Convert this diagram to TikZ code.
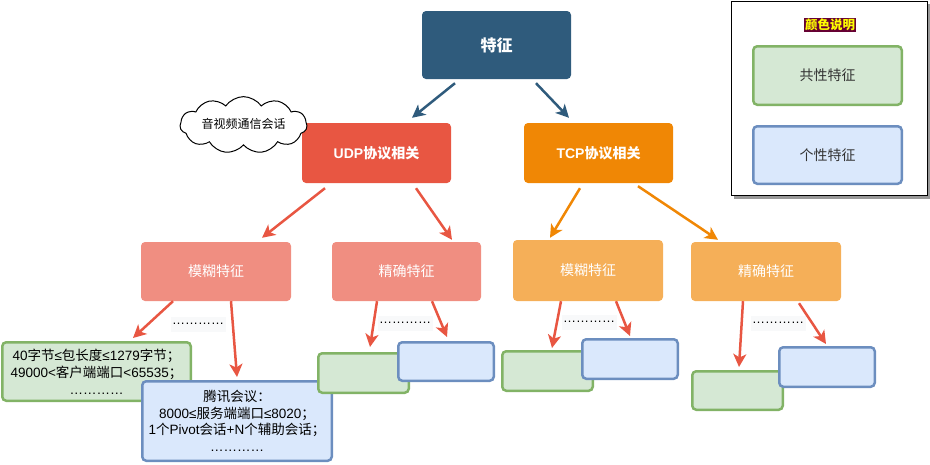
\documentclass[tikz,border=0pt]{standalone}
\usepackage{fontspec}
\setmainfont{Noto Sans CJK SC}
\newfontfamily\lsans{Liberation Sans}
\newcommand\LS[1]{{\lsans #1}}
\usetikzlibrary{shapes.symbols,arrows.meta,calc}
\definecolor{cRoot}{HTML}{2F5B7C}
\definecolor{cUdp}{HTML}{E85642}
\definecolor{cTcp}{HTML}{F08705}
\definecolor{cUdpL}{HTML}{F08E81}
\definecolor{cTcpL}{HTML}{F5AF58}
\definecolor{gFill}{HTML}{D5E8D4}
\definecolor{gLine}{HTML}{82B366}
\definecolor{bFill}{HTML}{DAE8FC}
\definecolor{bLine}{HTML}{6C8EBF}
\definecolor{dotBg}{HTML}{F8F9FA}
\definecolor{legBg}{HTML}{660033}
\definecolor{legTxt}{HTML}{FFFF00}
\definecolor{txtGray}{HTML}{333333}
\tikzset{
  topbox/.style={rounded corners=4pt, inner sep=0pt, text=white,
    font=\bfseries\fontsize{14}{16}\selectfont},
  gbox/.style={draw=gLine, fill=gFill, line width=2.5pt, rounded corners=4pt, inner sep=0pt,
    align=center, font=\fontsize{13.5}{17}\selectfont},
  bbox/.style={draw=bLine, fill=bFill, line width=2.5pt, rounded corners=4pt, inner sep=0pt,
    align=center, font=\fontsize{13.5}{16.5}\selectfont},
  arr/.style={draw=#1, line width=2.5pt,
    -{Stealth[length=13pt,width=13pt,inset=3.5pt]}},
  dots/.style={fill=dotBg, inner sep=1.5pt, minimum width=51pt, minimum height=15pt,
    font=\lsans\fontsize{13}{14}\selectfont},
}
\begin{document}
\begin{tikzpicture}[x=1pt,y=-1pt]
\useasboundingbox (0,0) rectangle (930,464);

% top levels
\node[topbox, fill=cRoot, minimum width=149pt, minimum height=68pt,
  font=\bfseries\fontsize{16}{18}\selectfont] (root) at (496.5,45) {特征};
\node[topbox, fill=cUdp, minimum width=149pt, minimum height=60pt] (udp) at (376.5,153) {\LS{UDP}协议相关};
\node[topbox, fill=cTcp, minimum width=149pt, minimum height=60pt] (tcp) at (598.5,153) {\LS{TCP}协议相关};

\node[topbox, fill=cUdpL, minimum width=150pt, minimum height=59pt, font=\fontsize{14}{16}\selectfont] (ufz) at (216,271.5) {模糊特征};
\node[topbox, fill=cUdpL, minimum width=149pt, minimum height=59pt, font=\fontsize{14}{16}\selectfont] (upr) at (406.5,271.5) {精确特征};
\node[topbox, fill=cTcpL, minimum width=150pt, minimum height=61pt, font=\fontsize{14}{16}\selectfont] (tfz) at (588,270.5) {模糊特征};
\node[topbox, fill=cTcpL, minimum width=150pt, minimum height=59pt, font=\fontsize{14}{16}\selectfont] (tpr) at (766,271.5) {精确特征};

% cloud
\node[cloud, draw=black, fill=white, line width=1pt, cloud puffs=11, cloud puff arc=110,
  aspect=2.9, inner sep=0pt, minimum width=127pt, minimum height=44pt,
  font=\fontsize{12}{14}\selectfont] (cl) at (243.5,125) {\raisebox{3pt}{音视频通信会话}};

% lower boxes
\node[gbox, minimum width=188.5pt, minimum height=58.5pt] (ug) at (96.5,371.5)
  {\LS{40}字节\LS{≤}包长度\LS{≤1279}字节；\\\LS{49000<}客户端端口\LS{<65535}；\\\LS{…………}};
\node[bbox, minimum width=189.5pt, minimum height=79.5pt] (ub) at (237,421)
  {腾讯会议：\\\LS{8000≤}服务端端口\LS{≤8020}；\\\LS{1}个\LS{Pivot}会话\LS{+N}个辅助会话；\\\LS{…………}};

\node[gbox, minimum width=90.5pt, minimum height=39.5pt] (upg) at (363.5,373) {};
\node[bbox, minimum width=95.5pt, minimum height=38.5pt] (upb) at (446,361.5) {};
\node[gbox, minimum width=90.5pt, minimum height=39.5pt] (tfg) at (547.5,371) {};
\node[bbox, minimum width=95.5pt, minimum height=39.5pt] (tfb) at (630,359) {};
\node[gbox, minimum width=90.5pt, minimum height=38.5pt] (tpg) at (737.5,390.5) {};
\node[bbox, minimum width=95.5pt, minimum height=39.5pt] (tpb) at (827,367) {};

% dots
\node[dots] (d1) at (198,324) {…………};
\node[dots] (d2) at (405,323) {…………};
\node[dots] (d3) at (589,322) {…………};
\node[dots] (d4) at (778,323) {…………};

% arrows
\draw[arr=cRoot] ($(root.south)+(-41.5,4)$) -- ($(udp.north)+(35.5,-5)$);
\draw[arr=cRoot] ($(root.south)+(39.5,4)$) -- ($(tcp.north)+(-29.5,-5)$);
\draw[arr=cUdp] ($(udp.south)+(-51.5,5)$) -- ($(ufz.north)+(46,-4)$);
\draw[arr=cUdp] ($(udp.south)+(39.5,5)$) -- ($(upr.north)+(45.5,-2)$);
\draw[arr=cTcp] ($(tcp.south)+(-18.5,5)$) -- ($(tfz.north)+(-38,-2)$);
\draw[arr=cTcp] ($(tcp.south)+(39.5,3)$) -- ($(tpr.north)+(-48,-2)$);
\draw[arr=cUdp] ($(ufz.south)+(-43,0)$) -- ($(ug.north)+(36.5,-3)$);
\draw[arr=cUdp] ($(ufz.south)+(15,0)$) -- ($(ub.north)+(0,-3)$);
\draw[arr=cUdp] ($(upr.south)+(-29.5,0)$) -- ($(upg.north)+(6.5,-5)$);
\draw[arr=cUdp] ($(upr.south)+(25.5,0)$) -- ($(upb.north)+(1,-4)$);
\draw[arr=cUdp] ($(tfz.south)+(-27,0)$) -- ($(tfg.north)+(4.5,-2)$);
\draw[arr=cUdp] ($(tfz.south)+(28,0)$) -- ($(tfb.north)+(0,-2)$);
\draw[arr=cUdp] ($(tpr.south)+(-23,0)$) -- ($(tpg.north)+(1.5,-3)$);
\draw[arr=cUdp] ($(tpr.south)+(33,2)$) -- ($(tpb.north)+(-1,-2)$);

% legend
\fill[gray!80] (734,4) rectangle (930,198.5);
\node[draw=black, fill=white, line width=1pt, minimum width=196pt, minimum height=194pt,
  inner sep=0pt] (leg) at (829.5,98.5) {};
\node[fill=legBg, text=legTxt, inner sep=0.8pt, font=\bfseries\fontsize{12.5}{14}\selectfont] (legt) at (830,25) {颜色说明};
\node[gbox, minimum width=148.5pt, minimum height=58.5pt, text=txtGray,
  font=\fontsize{14}{16}\selectfont] (lg) at (827.5,75.5) {共性特征};
\node[bbox, minimum width=148.5pt, minimum height=57.5pt, text=txtGray,
  font=\fontsize{14}{16}\selectfont] (lb) at (827.5,155) {个性特征};
\end{tikzpicture}
\end{document}
